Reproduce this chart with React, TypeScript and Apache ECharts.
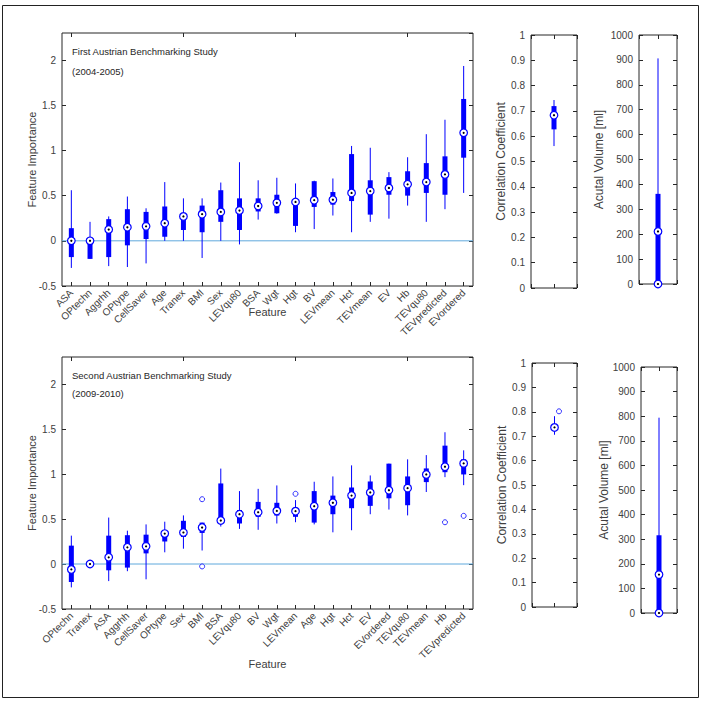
import React, { useEffect, useRef } from "react";
import * as echarts from "echarts";

// ---------- data ----------
const topCategories = ["ASA","OPtechn","Aggrhh","OPtype","CellSaver","Age","Tranex","BMI","Sex","LEVqu80","BSA","Wgt","Hgt","BV","LEVmean","Hct","TEVmean","EV","Hb","TEVqu80","TEVpredicted","EVordered"];
const topLow =    [-0.30,-0.20,-0.28,-0.29,-0.25,0.00,0.00,-0.19,0.00,-0.04,0.235,0.30,0.095,0.13,0.28,0.095,0.21,0.245,0.39,0.21,0.35,0.53];
const topQ1 =     [-0.18,-0.20,-0.18,-0.05,0.02,0.045,0.12,0.095,0.21,0.12,0.325,0.305,0.165,0.375,0.40,0.44,0.29,0.51,0.50,0.53,0.51,0.92];
const topMedian = [0.00,0.00,0.125,0.15,0.16,0.195,0.27,0.295,0.32,0.335,0.385,0.42,0.43,0.45,0.455,0.53,0.55,0.585,0.625,0.65,0.735,1.195];
const topQ3 =     [0.14,0.02,0.24,0.35,0.32,0.38,0.30,0.39,0.56,0.47,0.47,0.51,0.45,0.66,0.54,0.96,0.67,0.705,0.77,0.86,0.935,1.57];
const topHigh =   [0.56,0.21,0.27,0.49,0.36,0.65,0.47,0.47,0.645,0.87,0.67,0.698,0.635,0.665,0.69,1.05,1.03,0.76,0.925,1.18,1.34,1.935];

const botCategories = ["OPtechn","Tranex","ASA","Aggrhh","CellSaver","OPtype","Sex","BMI","BSA","LEVqu80","BV","Wgt","LEVmean","Age","Hgt","Hct","EV","EVordered","TEVqu80","TEVmean","Hb","TEVpredicted"];
const botLow =    [-0.26,0,-0.19,-0.08,-0.17,0.13,0.17,0.15,0.416,0.39,0.38,0.45,0.464,0.44,0.352,0.375,0.553,0.605,0.54,0.80,0.965,0.876];
const botQ1 =     [-0.20,0,-0.07,-0.04,0.118,0.25,0.30,0.345,0.45,0.45,0.524,0.538,0.524,0.46,0.553,0.62,0.646,0.73,0.653,0.91,1.02,0.995];
const botMedian = [-0.06,0,0.074,0.185,0.196,0.338,0.35,0.405,0.483,0.553,0.575,0.59,0.587,0.642,0.68,0.76,0.795,0.82,0.843,0.995,1.081,1.118];
const botQ3 =     [0.204,0,0.315,0.32,0.326,0.35,0.48,0.46,0.895,0.60,0.69,0.68,0.613,0.81,0.76,0.85,0.917,1.115,0.973,1.062,1.315,1.163];
const botHigh =   [0.315,0,0.516,0.37,0.44,0.47,0.54,0.46,1.06,0.81,0.835,0.873,0.71,0.914,0.973,1.096,0.984,1.115,1.163,1.21,1.464,1.263];
const botOutliers = [[7,0.72],[7,-0.027],[12,0.78],[20,0.464],[21,0.535]];

// [low, q1, median, q3, high]
const corrTop = [0.561,0.627,0.683,0.719,0.743];
const corrBot = [0.706,0.725,0.736,0.745,0.782];
const corrBotOutliers = [[1.2,0.802]];
const volTop = [0,0,211,362,906];
const volBot = [0,0,156,316,794];
const volZeroMarks = [[1,0]];

const featureTicks = { min: -0.5, max: 2.3, interval: 0.5 };
const corrTicks = { min: 0, max: 1, interval: 0.1 };
const volTicks = { min: 0, max: 1000, interval: 100 };

// ---------- style ----------
const BLUE = "#0000ff";
const ZERO = "#5fa8dc";
const FRAME = "#262626";
const TXT = "#404040";
const FONT = "Liberation Sans, Arial, sans-serif";

function renderBox(params: any, api: any) {
  const x = api.value(0);
  const lo = api.coord([x, api.value(1)]);
  const q1 = api.coord([x, api.value(2)]);
  const md = api.coord([x, api.value(3)]);
  const q3 = api.coord([x, api.value(4)]);
  const hi = api.coord([x, api.value(5)]);
  return {
    type: "group",
    children: [
      { type: "line", shape: { x1: lo[0], y1: lo[1], x2: hi[0], y2: hi[1] }, style: { stroke: BLUE, lineWidth: 1 } },
      { type: "line", shape: { x1: q1[0], y1: q1[1], x2: q3[0], y2: q3[1] }, style: { stroke: BLUE, lineWidth: 5, lineCap: "butt" } },
      { type: "circle", shape: { cx: md[0], cy: md[1], r: 3.8 }, style: { fill: "#fff", stroke: BLUE, lineWidth: 1.2 } },
      { type: "circle", shape: { cx: md[0], cy: md[1], r: 1.1 }, style: { fill: "#000" } },
    ],
  };
}

function renderMark(params: any, api: any) {
  const p = api.coord([api.value(0), api.value(1)]);
  return {
    type: "group",
    children: [
      { type: "circle", shape: { cx: p[0], cy: p[1], r: 3.8 }, style: { fill: "#fff", stroke: BLUE, lineWidth: 1.2 } },
      { type: "circle", shape: { cx: p[0], cy: p[1], r: 1.1 }, style: { fill: "#000" } },
    ],
  };
}

// zero reference line drawn across the whole grid from the y scale
function renderZero(params: any, api: any) {
  const cs = params.coordSys;
  const p = api.coord([0, api.value(1)]);
  return {
    type: "line",
    shape: { x1: cs.x, y1: p[1], x2: cs.x + cs.width, y2: p[1] },
    style: { stroke: ZERO, lineWidth: 1 },
  };
}

function boxRows(low: number[], q1: number[], med: number[], q3: number[], high: number[]) {
  return low.map((l, i) => [i, l, q1[i], med[i], q3[i], high[i]]);
}

const tickStyle = { show: true, inside: true, length: 4, lineStyle: { color: FRAME, width: 1 } };
const labelStyle = { color: TXT, fontSize: 10, fontFamily: FONT };
const zeroRow = [[0, 0]];

export default function App() {
  const ref = useRef<HTMLDivElement>(null);
  useEffect(() => {
    if (!ref.current) return;
    const chart = echarts.init(ref.current, null, { renderer: "svg" });

    const grids = [
      { left: 62, top: 33, width: 411, height: 253 },
      { left: 62, top: 357, width: 411, height: 252 },
      { left: 531, top: 35, width: 46, height: 253 },
      { left: 532, top: 363, width: 45, height: 244 },
      { left: 639, top: 35, width: 38, height: 249 },
      { left: 641, top: 367, width: 36, height: 246 },
    ].map((g) => ({ ...g, show: true, borderColor: FRAME, borderWidth: 1, backgroundColor: "transparent", containLabel: false }));

    const xAxes: any[] = [];
    const yAxes: any[] = [];

    const catX = (gi: number, cats: string[], gap: number) => {
      xAxes.push({
        type: "category", gridIndex: gi, data: cats, position: "bottom",
        axisLine: { show: false, onZero: false }, axisTick: { ...tickStyle, alignWithLabel: true },
        axisLabel: { ...labelStyle, rotate: 45, interval: 0, margin: 5 },
        splitLine: { show: false },
        name: "Feature", nameLocation: "middle", nameGap: gap, nameMoveOverlap: false,
        nameTextStyle: { color: TXT, fontSize: 11, fontFamily: FONT },
      });
      xAxes.push({
        type: "category", gridIndex: gi, data: cats, position: "top",
        axisLine: { show: false, onZero: false }, axisTick: { ...tickStyle, alignWithLabel: true },
        axisLabel: { show: false }, splitLine: { show: false },
      });
    };
    const valX = (gi: number) => {
      for (const pos of ["bottom", "top"]) {
        xAxes.push({
          type: "value", gridIndex: gi, min: 0, max: 2, interval: 1, position: pos,
          axisLine: { show: false, onZero: false }, axisTick: tickStyle, axisLabel: { show: false }, splitLine: { show: false },
        });
      }
    };
    const valY = (gi: number, t: any, name: string, gap: number, nameSize: number, showMax: boolean) => {
      yAxes.push({
        type: "value", gridIndex: gi, ...t, position: "left",
        axisLine: { show: false, onZero: false }, axisTick: tickStyle,
        axisLabel: { ...labelStyle, margin: 6, showMaxLabel: showMax, formatter: (v: number) => String(Math.round(v * 100) / 100) },
        splitLine: { show: false },
        name, nameLocation: "middle", nameGap: gap, nameMoveOverlap: false,
        nameTextStyle: { color: TXT, fontSize: nameSize, fontFamily: FONT },
      });
      yAxes.push({
        type: "value", gridIndex: gi, ...t, position: "right",
        axisLine: { show: false, onZero: false }, axisTick: tickStyle, axisLabel: { show: false }, splitLine: { show: false },
      });
    };

    catX(0, topCategories, 20);
    catX(1, botCategories, 49);
    valX(2); valX(3); valX(4); valX(5);
    valY(0, featureTicks, "Feature Importance", 25, 11, false);
    valY(1, featureTicks, "Feature Importance", 25, 11, false);
    valY(2, corrTicks, "Correlation Coefficient", 24, 12, true);
    valY(3, corrTicks, "Correlation Coefficient", 24, 12, true);
    valY(4, volTicks, "Acutal Volume [ml]", 34, 12, true);
    valY(5, volTicks, "Acutal Volume [ml]", 31, 12, true);

    const outlierStyle = { color: "#fff", borderColor: BLUE, borderWidth: 1 };

    const series: any[] = [
      { type: "custom", xAxisIndex: 0, yAxisIndex: 0, renderItem: renderZero, data: zeroRow, encode: { x: 0, y: 1 }, z: 2, silent: true },
      { type: "custom", xAxisIndex: 2, yAxisIndex: 2, renderItem: renderZero, data: zeroRow, encode: { x: 0, y: 1 }, z: 2, silent: true },
      { type: "custom", xAxisIndex: 0, yAxisIndex: 0, renderItem: renderBox, data: boxRows(topLow, topQ1, topMedian, topQ3, topHigh), encode: { x: 0, y: [1, 2, 3, 4, 5] }, z: 3 },
      { type: "custom", xAxisIndex: 2, yAxisIndex: 2, renderItem: renderBox, data: boxRows(botLow, botQ1, botMedian, botQ3, botHigh), encode: { x: 0, y: [1, 2, 3, 4, 5] }, z: 3 },
      { type: "scatter", xAxisIndex: 2, yAxisIndex: 2, data: botOutliers, symbol: "circle", symbolSize: 5, itemStyle: outlierStyle, z: 4 },
      { type: "custom", xAxisIndex: 4, yAxisIndex: 4, renderItem: renderBox, data: [[1, ...corrTop]], encode: { x: 0, y: [1, 2, 3, 4, 5] }, z: 3 },
      { type: "custom", xAxisIndex: 6, yAxisIndex: 6, renderItem: renderBox, data: [[1, ...corrBot]], encode: { x: 0, y: [1, 2, 3, 4, 5] }, z: 3 },
      { type: "scatter", xAxisIndex: 6, yAxisIndex: 6, data: corrBotOutliers, symbol: "circle", symbolSize: 5, itemStyle: outlierStyle, z: 4 },
      { type: "custom", xAxisIndex: 8, yAxisIndex: 8, renderItem: renderBox, data: [[1, ...volTop]], encode: { x: 0, y: [1, 2, 3, 4, 5] }, z: 3 },
      { type: "custom", xAxisIndex: 8, yAxisIndex: 8, renderItem: renderMark, data: volZeroMarks, encode: { x: 0, y: 1 }, z: 4 },
      { type: "custom", xAxisIndex: 10, yAxisIndex: 10, renderItem: renderBox, data: [[1, ...volBot]], encode: { x: 0, y: [1, 2, 3, 4, 5] }, z: 3 },
      { type: "custom", xAxisIndex: 10, yAxisIndex: 10, renderItem: renderMark, data: volZeroMarks, encode: { x: 0, y: 1 }, z: 4 },
    ];

    const titleText = (x: number, y: number, text: string) => ({
      type: "text", left: x, top: y, silent: true,
      style: { text, fill: "#262626", fontSize: 9.5, fontFamily: FONT },
    });

    chart.setOption({
      animation: false,
      backgroundColor: "#fff",
      textStyle: { fontFamily: FONT },
      grid: grids,
      xAxis: xAxes,
      yAxis: yAxes,
      series,
      graphic: [
        { type: "rect", silent: true, shape: { x: 2.5, y: 5.5, width: 696, height: 692 }, style: { fill: "none", stroke: "#222", lineWidth: 1 } },
        titleText(72, 46, "First Austrian Benchmarking Study"),
        titleText(72, 66, "(2004-2005)"),
        titleText(72, 370, "Second Austrian Benchmarking Study"),
        titleText(72, 388, "(2009-2010)"),
      ],
    });
    return () => chart.dispose();
  }, []);
  return <div ref={ref} style={{ position: "fixed", left: 0, top: 0, width: 702, height: 702 }} />;
}
